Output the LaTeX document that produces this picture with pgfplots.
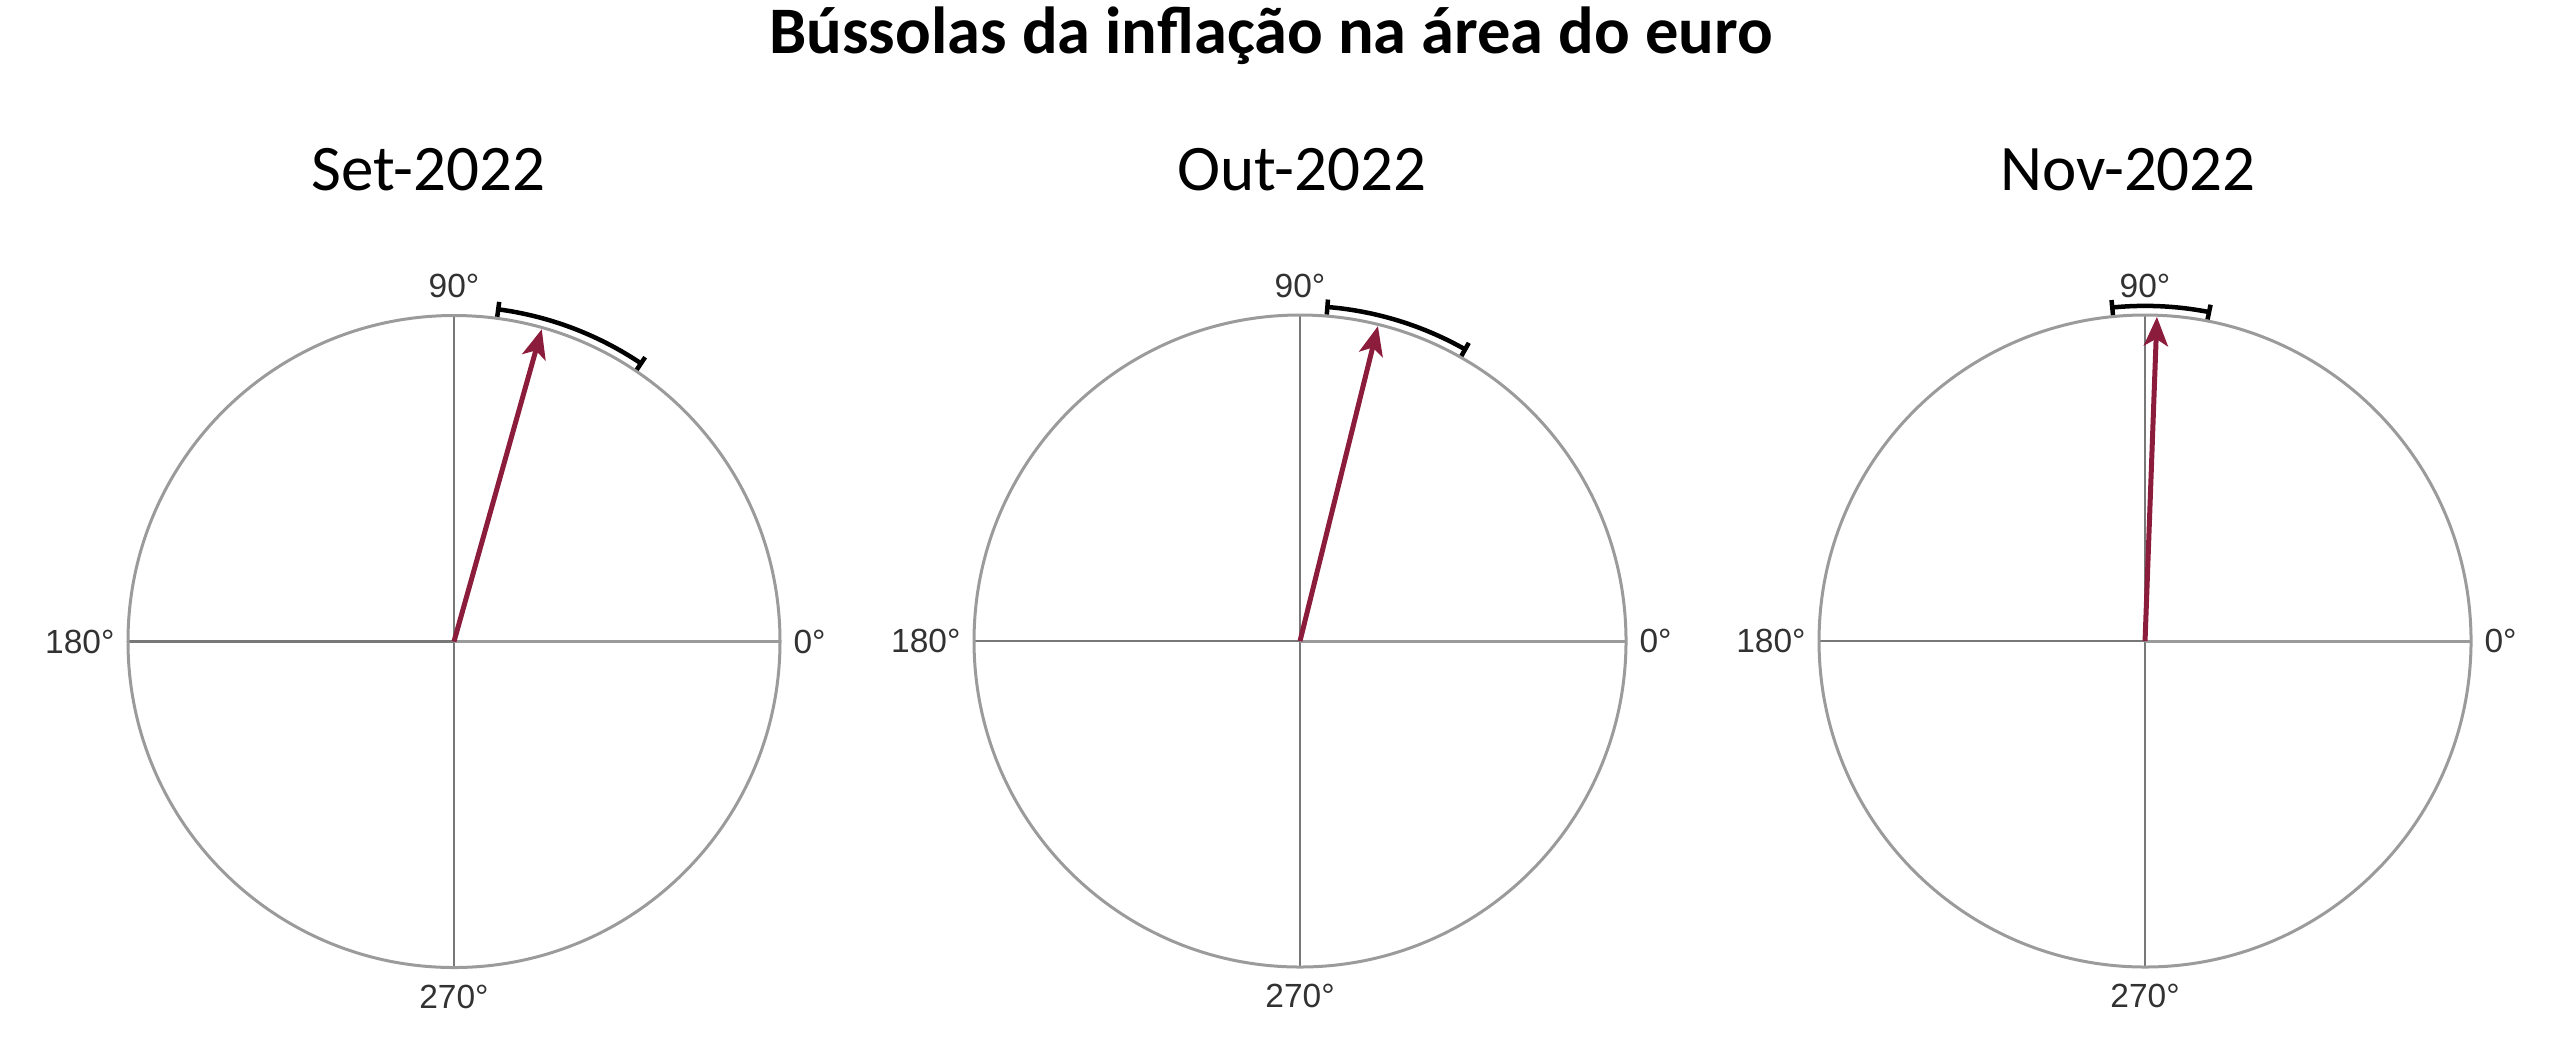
\documentclass[border=0pt]{standalone}
\usepackage{fontspec}
\setmainfont{Carlito}
\newfontfamily\tickfont{Liberation Sans}
\usepackage{pgfplots}
\pgfplotsset{compat=1.18}
\usepgfplotslibrary{polar}
\usetikzlibrary{arrows.meta}

\definecolor{arrowred}{RGB}{140,28,60}
\definecolor{ringgray}{RGB}{155,155,155}
\definecolor{gridgray}{RGB}{120,120,120}
\definecolor{ticktext}{RGB}{50,50,50}

\pgfplotsset{
  compass/.style={
    scale only axis,
    width=130.4pt, height=130.4pt,
    anchor=center,
    xmin=0, xmax=360, ymin=0, ymax=1,
    xtick={0,90,180,270}, ytick=\empty,
    xmajorgrids=true, ymajorgrids=false,
    major grid style={gridgray, line width=0.45pt},
    axis line style={ringgray, line width=0.6pt},
    major tick length=0pt,
    clip=false,
    xticklabel={\tickfont\pgfmathprintnumber[assume math mode=true]{\tick}°},
    xticklabel style={font=\fontsize{6.7}{8}\selectfont, text=ticktext,
      inner xsep=2.5pt, inner ysep=3.3pt},
  },
  band/.style={black, line width=0.9pt, samples=40, {Bar[width=3pt]}-{Bar[width=3pt]}},
  needle/.style={arrowred, line width=1pt, -{Stealth[length=5.8pt, width=4.8pt, inset=1.4pt]}},
}

\begin{document}
\begin{tikzpicture}[x=0.2pt, y=0.2pt]
\path[use as bounding box] (0,0) rectangle (2558,1045);

\node[anchor=base, font=\fontsize{13.3}{16}\selectfont\bfseries] at (1271,992)
  {Bússolas da inflação na área do euro};

\node[anchor=base, font=\fontsize{13}{15}\selectfont] at (428.5,855) {Set-2022};
\node[anchor=base, font=\fontsize{13}{15}\selectfont] at (1302,855) {Out-2022};
\node[anchor=base, font=\fontsize{13}{15}\selectfont] at (2128,855) {Nov-2022};

% Set-2022
\begin{polaraxis}[compass, at={(90.8pt,80.7pt)}]
\addplot[band, domain=55.7:82.8] {1.028};
\addplot[needle] coordinates {(0,0) (74.3,0.995)};
\end{polaraxis}

% Out-2022
\begin{polaraxis}[compass, at={(260pt,80.8pt)}]
\addplot[band, domain=60.1:85.7] {1.028};
\addplot[needle] coordinates {(0,0) (76.1,0.995)};
\end{polaraxis}

% Nov-2022
\begin{polaraxis}[compass, at={(429pt,80.8pt)}]
\addplot[band, domain=78.6:96.0] {1.028};
\addplot[needle] coordinates {(0,0) (87.9,0.995)};
\end{polaraxis}
\end{tikzpicture}
\end{document}
